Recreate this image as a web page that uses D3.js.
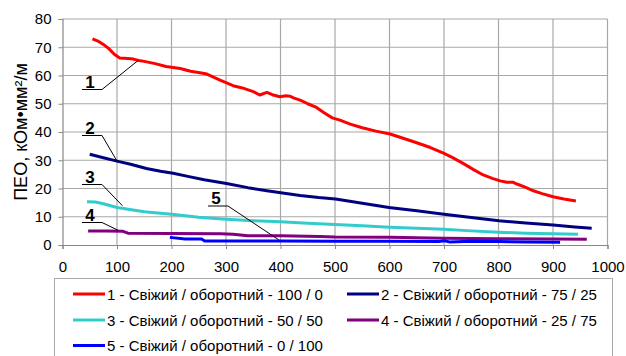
<!DOCTYPE html>
<html>
<head>
<meta charset="utf-8">
<script src="https://cdn.jsdelivr.net/npm/d3@7"></script>
<style>
  html, body { margin: 0; padding: 0; background: #fff; }
  svg { display: block; font-family: "Liberation Sans", Arial, sans-serif; }
</style>
</head>
<body>
<svg id="chart" width="626" height="356"></svg>
<script>
// Volume (x) vs specific resistance ПЕО (y) for five fresh/recycled ratios
const xTicks = [0, 100, 200, 300, 400, 500, 600, 700, 800, 900, 1000];
const yTicks = [0, 10, 20, 30, 40, 50, 60, 70, 80];

const series1 = [[55,73.0],[65,72.2],[75,71.0],[85,69.5],[95,67.5],[105,66.2],[120,66.0],[130,65.8],[140,65.3],[150,65.0],[170,64.2],[190,63.2],[216,62.5],[235,61.5],[252,61.0],[265,60.5],[275,59.6],[289,58.4],[300,57.5],[313,56.4],[330,55.6],[350,54.3],[362,53.1],[375,54.0],[385,53.2],[399,52.5],[410,52.8],[417,52.7],[425,52.0],[436,51.3],[450,50.0],[466,48.7],[480,46.8],[495,45.0],[509,44.2],[528,42.8],[550,41.5],[575,40.3],[601,39.3],[625,37.8],[650,36.2],[675,34.5],[699,32.5],[715,31.0],[735,28.9],[755,26.6],[772,24.8],[790,23.5],[803,22.7],[815,22.2],[827,22.2],[835,21.5],[850,20.4],[864,19.2],[880,18.2],[900,17.1],[920,16.3],[942,15.6]];
const series2 = [[50,32.1],[75,30.9],[100,29.7],[125,28.6],[154,27.1],[180,26.1],[203,25.4],[230,24.3],[260,23.1],[301,21.8],[340,20.3],[375,19.2],[410,18.2],[436,17.5],[470,16.8],[501,16.3],[550,14.8],[599,13.3],[650,12.1],[700,10.9],[750,9.7],[801,8.6],[850,7.8],[900,7.1],[940,6.4],[971,5.9]];
const series3 = [[45,15.3],[60,15.2],[75,14.6],[100,13.3],[150,11.8],[200,10.9],[250,9.8],[300,9.1],[350,8.6],[400,8.2],[450,7.7],[500,7.3],[550,6.8],[600,6.3],[650,5.9],[700,5.6],[750,5.0],[800,4.5],[850,4.2],[900,4.0],[946,3.8]];
const series4 = [[47,5.0],[80,5.0],[110,4.9],[120,4.2],[200,4.1],[290,4.0],[313,3.8],[340,3.3],[400,3.3],[472,3.0],[500,2.8],[600,2.7],[650,2.6],[700,2.4],[750,2.3],[800,2.2],[900,2.1],[962,2.0]];
const series5 = [[197,2.7],[225,2.1],[255,2.1],[261,1.4],[300,1.4],[400,1.4],[500,1.3],[600,1.3],[690,1.2],[700,1.5],[710,1.1],[750,1.3],[800,1.2],[850,1.1],[913,1.0]];

const seriesNames = [
  "1 - Свіжий / оборотний - 100 / 0",
  "2 - Свіжий / оборотний - 75 / 25",
  "3 - Свіжий / оборотний - 50 / 50",
  "4 - Свіжий / оборотний - 25 / 75",
  "5 - Свіжий / оборотний - 0 / 100"
];
const seriesColors = ["#ff0000", "#000080", "#33cccc", "#800080", "#0000ff"];
const allSeries = [series1, series2, series3, series4, series5];

// callout labels: number and the point on its curve that the leader reaches
const calloutNums = ["1", "2", "3", "4", "5"];
const calloutTargets = [[138, 65.2], [100, 29.7], [110, 13.9], [102, 5.2], [397, 1.8]];

const svg = d3.select("#chart");
const plot = { left: 62.5, right: 607.5, top: 19, bottom: 245 };

const x = d3.scaleLinear().domain([0, 1000]).range([plot.left, plot.right]);
const y = d3.scaleLinear().domain([0, 80]).range([plot.bottom, plot.top]);

// grid
const grid = svg.append("g");
grid.selectAll("line.v").data(xTicks.slice(1)).join("line")
  .attr("x1", d => x(d)).attr("x2", d => x(d))
  .attr("y1", plot.top).attr("y2", plot.bottom)
  .attr("stroke", "#a8a8a8").attr("stroke-width", 1.2);
grid.selectAll("line.h").data(yTicks.slice(1)).join("line")
  .attr("x1", plot.left).attr("x2", plot.right)
  .attr("y1", d => y(d)).attr("y2", d => y(d))
  .attr("stroke", "#a8a8a8").attr("stroke-width", 1.2);

// axes
const xAxis = d3.axisBottom(x).tickValues(xTicks).tickFormat(d3.format("d")).tickSize(4).tickPadding(12);
const yAxis = d3.axisLeft(y).tickValues(yTicks).tickFormat(d3.format("d")).tickSize(4).tickPadding(7);

const gx = svg.append("g").attr("transform", `translate(0,${plot.bottom})`).call(xAxis);
const gy = svg.append("g").attr("transform", `translate(${plot.left},0)`).call(yAxis);
[gx, gy].forEach(g => {
  g.select(".domain").attr("stroke", "#888").attr("stroke-width", 1.2);
  g.selectAll(".tick line").attr("stroke", "#888");
  g.selectAll(".tick text").attr("fill", "#000").attr("font-size", 15)
    .attr("font-family", "'Liberation Sans', Arial, sans-serif");
});

// y-axis title
svg.append("text")
  .attr("transform", `translate(27,132) rotate(-90)`)
  .attr("text-anchor", "middle")
  .attr("font-size", 18)
  .text("ПЕО, кОм•мм²/м");

// series lines
const line = d3.line().x(d => x(d[0])).y(d => y(d[1]));
allSeries.forEach((s, i) => {
  svg.append("path").datum(s)
    .attr("d", line)
    .attr("fill", "none")
    .attr("stroke", seriesColors[i])
    .attr("stroke-width", 3)
    .attr("stroke-linejoin", "round");
});

// callouts
const calloutLabelPos = [[90, 87.5], [90, 133.5], [90, 182.5], [90, 220.5], [216, 204]];
calloutNums.forEach((n, i) => {
  const [lx, ly] = calloutLabelPos[i];
  const [tx, ty] = calloutTargets[i];
  svg.append("text").attr("x", lx).attr("y", ly)
    .attr("text-anchor", "middle").attr("font-weight", "bold").attr("font-size", 17)
    .text(n);
  svg.append("polyline")
    .attr("points", `${lx - 8},${ly + 2} ${lx + 12},${ly + 2} ${x(tx)},${y(ty)}`)
    .attr("fill", "none").attr("stroke", "#000").attr("stroke-width", 1);
});

// legend
const legend = svg.append("g");
legend.append("rect")
  .attr("x", 54.5).attr("y", 278.5).attr("width", 558).attr("height", 80)
  .attr("fill", "#fff").attr("stroke", "#aaa").attr("stroke-width", 1);
const legendCols = [73, 347];
const legendRows = [294, 320, 345.5];
seriesNames.forEach((name, i) => {
  const lx = legendCols[i % 2];
  const ly = legendRows[Math.floor(i / 2)];
  legend.append("line")
    .attr("x1", lx).attr("x2", lx + 32).attr("y1", ly).attr("y2", ly)
    .attr("stroke", seriesColors[i]).attr("stroke-width", 3);
  legend.append("text")
    .attr("x", lx + 34).attr("y", ly + 5.5)
    .attr("font-size", 15)
    .text(name);
});
</script>
</body>
</html>
